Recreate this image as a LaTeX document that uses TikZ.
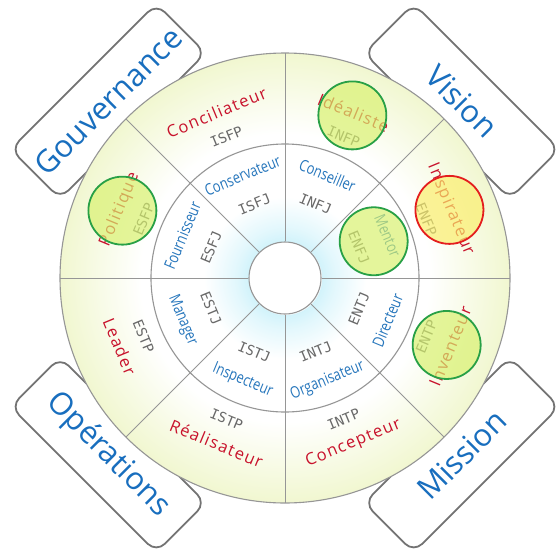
\documentclass[tikz,border=0pt]{standalone}
\usepackage{fontspec}
\setmainfont{Open Sans}
\newfontfamily\boxfont{Open Sans}
\newfontfamily\rolefont[LetterSpace=8]{Open Sans}
\newfontfamily\condfont[FakeStretch=0.8]{Open Sans}
\newfontfamily\codefont{DejaVu Sans Mono}

\definecolor{glowc}{RGB}{210,243,251}
\definecolor{rimc}{RGB}{241,247,208}
\definecolor{boxblue}{RGB}{24,110,190}
\definecolor{rolered}{RGB}{200,18,44}
\definecolor{roleblue}{RGB}{38,118,188}
\definecolor{codegray}{RGB}{105,105,105}
\definecolor{edgegray}{RGB}{150,150,150}
\definecolor{framegray}{RGB}{115,115,115}
\definecolor{markfill}{RGB}{216,241,108}
\definecolor{markgreen}{RGB}{40,160,70}
\definecolor{warnfill}{RGB}{250,238,105}
\definecolor{warnred}{RGB}{228,30,30}

% wheel background: cyan halo round the hub, pale green towards the rim
% (the central 50bp square of the shading is stretched over the disk: rim = 25bp)
\pgfdeclareradialshading{wheelglow}{\pgfpoint{0bp}{0bp}}{%
  color(0bp)=(white); color(4bp)=(white); color(4.1bp)=(glowc);
  color(5.5bp)=(glowc!65!white); color(9bp)=(white);
  color(16bp)=(white); color(25bp)=(rimc); color(50bp)=(rimc)}

\begin{document}
\begin{tikzpicture}[x=1pt,y=1pt,
  areabox/.style={draw=framegray, line width=1.8pt, fill=white, rounded corners=12pt,
    minimum width=206pt, minimum height=70pt, inner sep=0pt, text=boxblue,
    font=\boxfont\fontsize{31}{31}\selectfont},
  rim/.style={draw=edgegray, line width=1.1pt},
  spoke/.style={draw=edgegray, line width=0.9pt},
  role/.style={text=rolered, font=\rolefont\fontsize{16.5}{16.5}\selectfont, inner sep=0pt},
  subrole/.style={text=roleblue, font=\condfont\fontsize{16}{16}\selectfont, inner sep=0pt},
  code/.style={text=codegray, font=\codefont\fontsize{14}{14}\selectfont, inner sep=0pt},
  hilite/.style={circle, minimum size=68pt, inner sep=0pt, draw=markgreen,
    line width=1.8pt, fill=markfill, fill opacity=0.68},
  alert/.style={hilite, draw=warnred, fill=warnfill}
]
\useasboundingbox (-285,-272) rectangle (274,278);

% the four area labels, partly hidden behind the wheel
\node[areabox, rotate=45]  (gov) at (135:250) {Gouvernance};
\node[areabox, rotate=-45] (vis) at (45:250)  {Vision};
\node[areabox, rotate=-45] (ops) at (225:250) {Opérations};
\node[areabox, rotate=45]  (mis) at (315:250) {Mission};

% wheel
\path[shading=wheelglow] (0,0) circle (225);
\draw[rim] (0,0) circle (225);
\draw[rim] (0,0) circle (134);
\node[circle, draw=edgegray, line width=1.1pt, fill=white, minimum size=72pt, inner sep=0pt] (hub) at (0,0) {};
\foreach \a in {0,45,...,315}
  \draw[spoke] (hub.\a) -- (\a:225);

% sector texts
\foreach \m/\lab/\code/\sub/\subcode [count=\k] in {
  22.5/Inspirateur/ENFP/Mentor/ENFJ,
  67.5/Idéaliste/INFP/Conseiller/INFJ,
  112.5/Conciliateur/ISFP/Conservateur/ISFJ,
  157.5/Politique/ESFP/Fournisseur/ESFJ,
  202.5/Leader/ESTP/Manager/ESTJ,
  247.5/Réalisateur/ISTP/Inspecteur/ISTJ,
  292.5/Concepteur/INTP/Organisateur/INTJ,
  337.5/Inventeur/ENTP/Directeur/ENTJ}
{
  \pgfmathsetmacro\tilt{\m<180 ? \m-90 : \m+90}
  \node[role, rotate=\tilt] (role\k) at (\m:179) {\lab};
  \node[code, rotate=\tilt] (code\k) at (\m:153) {\code};
  \node[subrole, rotate=\tilt] (sub\k) at (\m:111) {\sub};
  \node[code, rotate=\tilt] (subcode\k) at (\m:80) {\subcode};
}

% highlighted types
\node[hilite] (hpol) at (157.5:176) {};
\node[hilite] (hide) at (67.5:176) {};
\node[hilite] (hmen) at (22.5:96) {};
\node[alert]  (hins) at (22.5:178) {};
\node[hilite] (hinv) at (337.5:175) {};
\end{tikzpicture}
\end{document}
